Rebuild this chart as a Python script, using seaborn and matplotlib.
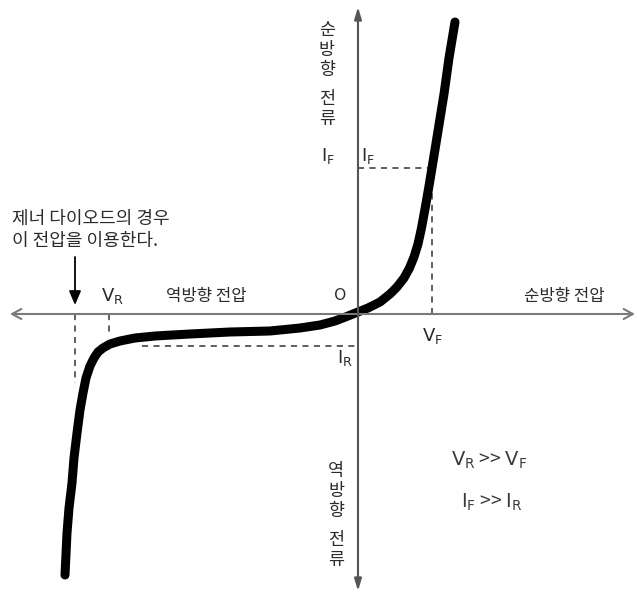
import matplotlib
matplotlib.use("Agg")
import matplotlib.pyplot as plt
import numpy as np
import pandas as pd
import seaborn as sns

# Diode V-I characteristic (schematic units)
voltage = [-2.93, -2.91, -2.89, -2.86, -2.84, -2.81, -2.78, -2.75, -2.72, -2.68,
           -2.64, -2.60, -2.55, -2.48, -2.38, -2.23, -2.03, -1.68, -1.28, -0.88,
           -0.58, -0.38, -0.23, -0.10, 0.00, 0.10, 0.22, 0.32, 0.39, 0.46,
           0.515, 0.56, 0.60, 0.635, 0.67, 0.705, 0.74, 0.80, 0.86, 0.91, 0.97]
current = [-2.61, -2.19, -1.94, -1.69, -1.44, -1.19, -0.96, -0.79, -0.64, -0.52,
           -0.44, -0.38, -0.34, -0.30, -0.27, -0.24, -0.22, -0.20, -0.18, -0.17,
           -0.14, -0.11, -0.07, -0.02, 0.02, 0.06, 0.12, 0.20, 0.27, 0.36,
           0.46, 0.57, 0.70, 0.86, 1.05, 1.25, 1.46, 1.83, 2.20, 2.56, 2.92]

# Marked operating points
VF, IF = 0.74, 1.46
VR, IR = -2.49, -0.32
VZ = -2.83

# Text labels
zener_note = ["제너 다이오드의 경우", "이 전압을 이용한다."]
rev_volt_label = "역방향 전압"
fwd_volt_label = "순방향 전압"
fwd_curr_label = "순방향 전류"
rev_curr_label = "역방향 전류"

sns.set_theme(style="white")
plt.rcParams["font.family"] = ["Noto Sans CJK KR", "DejaVu Sans"]
plt.rcParams["mathtext.fontset"] = "dejavusans"

fig = plt.figure(figsize=(6.37, 6.00), dpi=100)
ax = fig.add_axes([0, 0, 1, 1])
ax.set_xlim(-3.58, 2.79)
ax.set_ylim(-2.86, 3.14)
ax.axis("off")

axis_col = "#7a7a7a"
txt_col = "#2a2a2a"

# Coordinate axes with arrow heads
ax.annotate("", xy=(2.77, 0), xytext=(-3.48, 0),
            arrowprops=dict(arrowstyle="<->,head_length=0.55,head_width=0.3",
                            color=axis_col, lw=1.5, shrinkA=0, shrinkB=0))
ax.annotate("", xy=(0, 3.07), xytext=(0, -2.77),
            arrowprops=dict(arrowstyle="<|-|>,head_length=0.6,head_width=0.18",
                            color="#555555", lw=1.5, shrinkA=0, shrinkB=0))

# Dashed guide lines
dash = dict(color="#333333", lw=1.1, ls=(0, (4, 3.5)))
ax.plot([0, VF], [IF, IF], **dash)
ax.plot([VF, VF], [0, IF], **dash)
ax.plot([VR + 0.33, 0], [IR, IR], **dash)
ax.plot([VR, VR], [0, -0.22], **dash)
ax.plot([VZ, VZ], [0, -0.69], **dash)

# Characteristic curve
df = pd.DataFrame({"V": voltage, "I": current})
sns.lineplot(data=df, x="V", y="I", sort=False, ax=ax, color="black",
             lw=6.5, solid_capstyle="round", solid_joinstyle="round")

# Zener arrow
ax.annotate("", xy=(VZ, 0.09), xytext=(VZ, 0.57),
            arrowprops=dict(arrowstyle="-|>,head_length=0.7,head_width=0.3",
                            color="black", lw=1.3, shrinkA=0, shrinkB=0))

# Labels
ax.text(-3.46, 0.95, zener_note[0], fontsize=13, color=txt_col, ha="left", va="center")
ax.text(-3.46, 0.73, zener_note[1], fontsize=13, color=txt_col, ha="left", va="center")
ax.text(-1.52, 0.17, rev_volt_label, fontsize=12, color=txt_col, ha="center", va="center")
ax.text(2.06, 0.18, fwd_volt_label, fontsize=12, color=txt_col, ha="center", va="center")
ax.text(-0.18, 0.19, "O", fontsize=12, color=txt_col, ha="center", va="center")
ax.text(-2.46, 0.18, r"$\mathrm{V_R}$", fontsize=13, color=txt_col, ha="center", va="center")
ax.text(0.74, -0.22, r"$\mathrm{V_F}$", fontsize=13, color=txt_col, ha="center", va="center")
ax.text(-0.13, -0.44, r"$\mathrm{I_R}$", fontsize=13, color=txt_col, ha="center", va="center")
ax.text(-0.30, 1.58, r"$\mathrm{I_F}$", fontsize=13, color=txt_col, ha="center", va="center")
ax.text(0.10, 1.58, r"$\mathrm{I_F}$", fontsize=13, color=txt_col, ha="center", va="center")

# Stacked vertical labels along the current axis
def stacked(label, x, y_top, step=0.20, gap=0.09):
    y = y_top
    for ch in label:
        if ch == " ":
            y -= gap
            continue
        ax.text(x, y, ch, fontsize=12.5, color=txt_col, ha="center", va="center")
        y -= step

stacked(fwd_curr_label, -0.31, 2.84)
stacked(rev_curr_label, -0.22, -1.57)

ax.text(1.31, -1.46, r"$\mathrm{V_R}$ >> $\mathrm{V_F}$", fontsize=14,
        color="#3a3a3a", ha="center", va="center")
ax.text(1.34, -1.88, r"$\mathrm{I_F}$ >> $\mathrm{I_R}$", fontsize=14,
        color="#3a3a3a", ha="center", va="center")

fig.savefig("out.png", dpi=100, facecolor="white")
